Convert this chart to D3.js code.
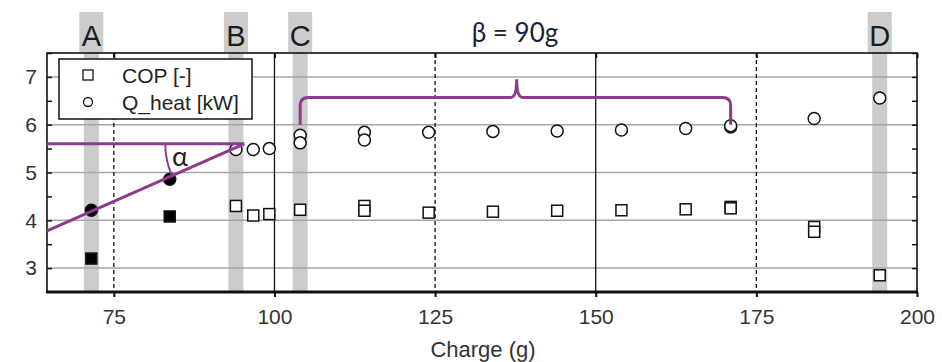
<!DOCTYPE html>
<html>
<head>
<meta charset="utf-8">
<script src="https://cdn.jsdelivr.net/npm/d3@7"></script>
<style>
  body { margin: 0; background: #fff; }
  svg { display: block; }
</style>
</head>
<body>
<div class="main"></div>
<script>
// charge (g) and measured values
var qCharge = [71.5, 83.7, 94, 96.7, 99.2, 104, 104, 114, 114, 124, 134, 144, 154, 164, 171, 171, 184, 194.2];
var qHeat   = [4.21, 4.86, 5.48, 5.48, 5.5, 5.78, 5.62, 5.84, 5.68, 5.84, 5.86, 5.87, 5.89, 5.92, 5.95, 5.98, 6.13, 6.56];
var copCharge = [71.5, 83.7, 94, 96.7, 99.2, 104, 114, 114, 124, 134, 144, 154, 164, 171, 171, 184, 184, 194.2];
var copValue  = [3.2, 4.08, 4.3, 4.1, 4.13, 4.22, 4.3, 4.2, 4.16, 4.18, 4.2, 4.21, 4.23, 4.28, 4.25, 3.86, 3.76, 2.85];
var filledBelow = 90; // points left of this are filled

var bandNames = ["A", "B", "C", "D"];
var bandCharge = [71.5, 94, 104, 194.2];

var xTicks = [75, 100, 125, 150, 175, 200];
var yTicks = [3, 4, 5, 6, 7];
var solidX = [100, 150];
var dashedX = [75, 125, 175];

// annotation (in data units)
var alphaStart = [64.6, 3.78];
var alphaEnd = [95.3, 5.6];
var braceFrom = 104, braceTo = 171, braceMid = 137.7;
var braceBase = 6.57, braceEnd = 6.0, braceTip = 6.95;

var W = 942, H = 362;
var arial = "'Liberation Sans', Arial, sans-serif";
var calibri = "Lato, 'Open Sans', sans-serif";
var svg = d3.select("div.main").append("svg")
  .attr("width", W).attr("height", H);

var x = d3.scaleLinear().domain([64.6, 200]).range([47, 917]);
var y = d3.scaleLinear().domain([2.5, 7.5]).range([292, 53]);
var purple = "#8e3a8e";

// grey bands with letter boxes
var bands = svg.append("g");
bandCharge.forEach(function(c, i) {
  var cx = x(c);
  bands.append("rect").attr("x", cx - 7.5).attr("y", 40).attr("width", 15)
    .attr("height", y.range()[0] - 40).attr("fill", "#cccccc");
  bands.append("rect").attr("x", cx - 12).attr("y", 12).attr("width", 24)
    .attr("height", 41).attr("fill", "#cccccc");
  bands.append("text").attr("x", cx).attr("y", 46)
    .attr("text-anchor", "middle")
    .style("font-family", arial)
    .style("font-size", "29px").style("fill", "#1c1c1c")
    .text(bandNames[i]);
});

// horizontal grid
svg.append("g").selectAll("line").data(yTicks).enter().append("line")
  .attr("x1", x.range()[0]).attr("x2", x.range()[1])
  .attr("y1", function(d) { return y(d); }).attr("y2", function(d) { return y(d); })
  .attr("stroke", "#a6a6a6").attr("stroke-width", 1.5);

// vertical grid
svg.append("g").selectAll("line").data(solidX).enter().append("line")
  .attr("x1", function(d) { return x(d); }).attr("x2", function(d) { return x(d); })
  .attr("y1", y.range()[1]).attr("y2", y.range()[0])
  .attr("stroke", "#111").attr("stroke-width", 1.3);
svg.append("g").selectAll("line").data(dashedX).enter().append("line")
  .attr("x1", function(d) { return x(d); }).attr("x2", function(d) { return x(d); })
  .attr("y1", y.range()[1]).attr("y2", y.range()[0])
  .attr("stroke", "#111").attr("stroke-width", 1.3)
  .attr("stroke-dasharray", "4,3");

// frame
var x0 = x.range()[0], x1 = x.range()[1], yT = y.range()[1], yB = y.range()[0];
svg.append("rect").attr("x", x0).attr("y", yT).attr("width", x1 - x0).attr("height", yB - yT)
  .attr("fill", "none").attr("stroke", "#111").attr("stroke-width", 1.6);
svg.append("line").attr("x1", x0 - 1).attr("x2", x1 + 1).attr("y1", yB).attr("y2", yB)
  .attr("stroke", "#111").attr("stroke-width", 3);

// axes
var xAxis = svg.append("g").attr("transform", "translate(0," + yB + ")")
  .call(d3.axisBottom(x).tickValues(xTicks).tickSize(5).tickPadding(12).tickFormat(d3.format("d")));
xAxis.select(".domain").remove();
xAxis.selectAll("line").attr("stroke", "#111").attr("stroke-width", 2);
xAxis.selectAll("text").style("font-family", arial).style("font-size", "21px").style("fill", "#333");

svg.append("g").attr("transform", "translate(0," + yT + ")")
  .call(d3.axisTop(x).tickValues(xTicks).tickSize(-5).tickFormat(""))
  .call(function(g) { g.select(".domain").remove(); g.selectAll("line").attr("stroke", "#111").attr("stroke-width", 2); });

var yMinor = d3.range(3, 7.6, 0.5);
var yAxis = svg.append("g").attr("transform", "translate(" + x0 + ",0)")
  .call(d3.axisLeft(y).tickValues(yTicks).tickSize(0).tickPadding(10).tickFormat(d3.format("d")));
yAxis.select(".domain").remove();
yAxis.selectAll("text").style("font-family", arial)
  .style("font-size", "21px").style("fill", "#333");
svg.append("g").attr("transform", "translate(" + x0 + ",0)")
  .call(d3.axisRight(y).tickValues(yMinor).tickSize(5).tickFormat(""))
  .call(function(g) { g.select(".domain").remove(); g.selectAll("line").attr("stroke", "#111").attr("stroke-width", 1.5); });
svg.append("g").attr("transform", "translate(" + x1 + ",0)")
  .call(d3.axisLeft(y).tickValues(yMinor).tickSize(5).tickFormat(""))
  .call(function(g) { g.select(".domain").remove(); g.selectAll("line").attr("stroke", "#111").attr("stroke-width", 1.5); });

svg.append("text").attr("x", (x0 + x1) / 2 + 1).attr("y", 357)
  .attr("text-anchor", "middle")
  .style("font-family", arial).style("font-size", "22px").style("fill", "#333")
  .text("Charge (g)");

// legend
var leg = svg.append("g");
leg.append("rect").attr("x", 59).attr("y", 59).attr("width", 193).attr("height", 60)
  .attr("fill", "#fff").attr("stroke", "#111").attr("stroke-width", 1.5);
leg.append("rect").attr("x", 83).attr("y", 70).attr("width", 10).attr("height", 10)
  .attr("fill", "#fff").attr("stroke", "#111").attr("stroke-width", 1.3);
leg.append("circle").attr("cx", 88).attr("cy", 102).attr("r", 4.5)
  .attr("fill", "#fff").attr("stroke", "#111").attr("stroke-width", 1.3);
leg.append("text").attr("x", 122).attr("y", 83)
  .style("font-family", arial).style("font-size", "21px").style("fill", "#222")
  .text("COP [-]");
leg.append("text").attr("x", 122).attr("y", 110)
  .style("font-family", arial).style("font-size", "21px").style("fill", "#222")
  .text("Q_heat [kW]");

// COP squares
var s = 11;
svg.append("g").selectAll("rect").data(copCharge).enter().append("rect")
  .attr("x", function(d) { return x(d) - s / 2; })
  .attr("y", function(d, i) { return y(copValue[i]) - s / 2; })
  .attr("width", s).attr("height", s)
  .attr("fill", function(d) { return d < filledBelow ? "#000" : "#fff"; })
  .attr("stroke", "#111").attr("stroke-width", 1.5);

// Q_heat circles
svg.append("g").selectAll("circle").data(qCharge).enter().append("circle")
  .attr("cx", function(d) { return x(d); })
  .attr("cy", function(d, i) { return y(qHeat[i]); })
  .attr("r", 6)
  .attr("fill", function(d) { return d < filledBelow ? "#000" : "#fff"; })
  .attr("stroke", "#111").attr("stroke-width", 1.5);

// alpha annotation
var ax = x(alphaEnd[0]), ay = y(alphaEnd[1]);
svg.append("line").attr("x1", x(alphaStart[0])).attr("y1", ay).attr("x2", ax).attr("y2", ay)
  .attr("stroke", purple).attr("stroke-width", 3);
svg.append("line").attr("x1", x(alphaStart[0])).attr("y1", y(alphaStart[1])).attr("x2", ax).attr("y2", ay)
  .attr("stroke", purple).attr("stroke-width", 3);
var ang = Math.atan2(y(alphaStart[1]) - ay, ax - x(alphaStart[0]));
var r = 79;
svg.append("path")
  .attr("d", "M" + (ax - r) + "," + ay + " A" + r + "," + r + " 0 0 0 " +
    (ax - r * Math.cos(ang)) + "," + (ay + r * Math.sin(ang)))
  .attr("fill", "none").attr("stroke", purple).attr("stroke-width", 2);
svg.append("text").attr("x", 180).attr("y", 166).attr("text-anchor", "middle")
  .style("font-family", calibri).style("font-size", "27px").style("fill", "#222")
  .text("α");

// brace
var bx1 = x(braceFrom), bx2 = x(braceTo), bm = x(braceMid);
var by = y(braceBase), be = y(braceEnd), bt = y(braceTip), rr = 8;
svg.append("path")
  .attr("d", "M" + bx1 + "," + be + " L" + bx1 + "," + (by + rr) +
    " Q" + bx1 + "," + by + " " + (bx1 + rr) + "," + by +
    " L" + (bm - 6) + "," + by +
    " Q" + bm + "," + by + " " + bm + "," + bt +
    " Q" + bm + "," + by + " " + (bm + 6) + "," + by +
    " L" + (bx2 - rr) + "," + by +
    " Q" + bx2 + "," + by + " " + bx2 + "," + (by + rr) +
    " L" + bx2 + "," + be)
  .attr("fill", "none").attr("stroke", purple).attr("stroke-width", 3);

svg.append("text").attr("x", 515).attr("y", 42).attr("text-anchor", "middle")
  .style("font-family", calibri).style("font-size", "26px").style("fill", "#1a1f3a")
  .text("β = 90g");
</script>
</body>
</html>
